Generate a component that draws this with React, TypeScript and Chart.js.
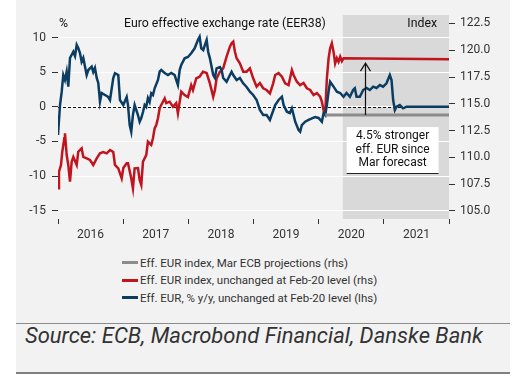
import React, { useEffect, useRef } from "react";
import { Chart, registerables } from "chart.js";

Chart.register(...registerables);

// Blue: Eff. EUR, % y/y (lhs)
const blueDates = [
  2016.0, 2016.031, 2016.057, 2016.081, 2016.107, 2016.133, 2016.158, 2016.184, 2016.235, 2016.261,
  2016.287, 2016.311, 2016.337, 2016.363, 2016.388, 2016.44, 2016.465, 2016.517, 2016.541, 2016.567,
  2016.594, 2016.618, 2016.644, 2016.67, 2016.721, 2016.771, 2016.798, 2016.848, 2016.874, 2016.925,
  2016.951, 2017.002, 2017.054, 2017.074, 2017.1, 2017.124, 2017.15, 2017.176, 2017.201, 2017.227,
  2017.253, 2017.278, 2017.304, 2017.33, 2017.354, 2017.38, 2017.406, 2017.431, 2017.457, 2017.483,
  2017.534, 2017.56, 2017.584, 2017.637, 2017.687, 2017.738, 2017.79, 2017.84, 2017.867, 2017.891,
  2017.943, 2017.994, 2018.044, 2018.097, 2018.147, 2018.173, 2018.198, 2018.229, 2018.255, 2018.281,
  2018.305, 2018.331, 2018.382, 2018.408, 2018.434, 2018.485, 2018.511, 2018.535, 2018.587, 2018.638,
  2018.664, 2018.689, 2018.741, 2018.791, 2018.842, 2018.894, 2018.945, 2018.995, 2019.048, 2019.098,
  2019.149, 2019.201, 2019.252, 2019.278, 2019.333, 2019.385, 2019.436, 2019.462, 2019.512, 2019.558,
  2019.589, 2019.615, 2019.64, 2019.692, 2019.716, 2019.742, 2019.793, 2019.845, 2019.896, 2019.946,
  2019.998, 2020.049, 2020.075, 2020.1, 2020.126, 2020.152, 2020.176, 2020.229, 2020.279, 2020.33,
  2020.382, 2020.428, 2020.479, 2020.529, 2020.555, 2020.581, 2020.632, 2020.683, 2020.735, 2020.785,
  2020.836, 2020.888, 2020.939, 2020.989, 2021.041, 2021.092, 2021.118, 2021.143, 2021.169, 2021.195,
  2021.245, 2021.296, 2021.348, 2022.0,
];
const blueValues = [
  -4.06, 0.27, 2.2, 4.61, 3.88, 5.09, 2.92, 7.07, 7.98, 7.36,
  8.97, 8.51, 7.79, 6.53, 7.07, 4.61, 5.33, 5.81, 5.04, 5.62,
  4.18, 3.46, 0.75, 2.01, 1.72, 1.43, 1.0, 4.18, 4.86, 4.61,
  1.0, 0.27, 1.43, 0.27, -2.62, -3.58, -1.17, 0.27, -0.45, -1.17,
  -2.14, -1.6, -0.74, 0.27, -0.01, 1.29, 0.71, 1.97, 1.72, 2.69,
  3.89, 5.09, 5.33, 4.9, 4.61, 4.9, 4.61, 3.16, 5.33, 6.05,
  7.02, 7.21, 7.75, 8.47, 9.67, 10.14, 8.47, 8.22, 8.95, 9.67,
  7.93, 7.02, 4.61, 4.18, 5.58, 5.77, 5.33, 4.18, 3.64, 4.61,
  5.09, 4.61, 3.89, 4.18, 3.41, 2.88, 2.2, 1.72, 1.0, -0.45,
  -1.17, -1.17, -1.89, -1.17, 0.27, 1.0, 1.47, 0.27, -0.69, -0.88,
  -0.2, -1.17, -2.14, -3.34, -3.58, -2.62, -2.14, -1.89, -1.65, -1.46,
  -1.6, -2.14, -0.92, -1.17, 0.27, 2.2, 3.64, 2.92, 2.2, 2.01,
  1.47, 2.01, 1.47, 2.44, 2.69, 1.47, 1.47, 2.44, 2.73, 2.44,
  2.92, 2.73, 3.16, 2.92, 3.41, 4.61, 3.89, 1.0, -0.45, 0.03,
  0.27, -0.2, 0.03, 0.03,
];

// Red: Eff. EUR index, unchanged at Feb-20 level (rhs)
const redDates = [
  2016.0, 2016.015, 2016.046, 2016.066, 2016.097, 2016.107, 2016.133, 2016.158, 2016.184, 2016.21,
  2016.235, 2016.287, 2016.311, 2016.363, 2016.388, 2016.44, 2016.491, 2016.541, 2016.594, 2016.644,
  2016.695, 2016.747, 2016.798, 2016.848, 2016.874, 2016.925, 2016.977, 2017.002, 2017.054, 2017.074,
  2017.124, 2017.15, 2017.176, 2017.227, 2017.253, 2017.278, 2017.304, 2017.354, 2017.38, 2017.431,
  2017.457, 2017.483, 2017.508, 2017.534, 2017.56, 2017.584, 2017.637, 2017.661, 2017.713, 2017.764,
  2017.814, 2017.84, 2017.891, 2017.943, 2017.994, 2018.044, 2018.071, 2018.121, 2018.173, 2018.224,
  2018.281, 2018.331, 2018.382, 2018.408, 2018.434, 2018.485, 2018.535, 2018.587, 2018.638, 2018.664,
  2018.689, 2018.715, 2018.741, 2018.791, 2018.842, 2018.894, 2018.945, 2018.995, 2019.048, 2019.098,
  2019.149, 2019.201, 2019.252, 2019.302, 2019.333, 2019.385, 2019.436, 2019.486, 2019.538, 2019.589,
  2019.615, 2019.666, 2019.716, 2019.768, 2019.819, 2019.87, 2019.922, 2019.972, 2020.023, 2020.049,
  2020.075, 2020.1, 2020.126, 2020.152, 2020.176, 2020.202, 2020.229, 2020.253, 2020.279, 2020.305,
  2020.33, 2020.356, 2020.382, 2022.0,
];
const redValues = [
  107.11, 108.66, 109.29, 110.53, 111.78, 112.25, 110.22, 109.29, 107.73, 109.6,
  110.04, 109.29, 110.53, 110.85, 110.04, 109.91, 109.76, 109.29, 109.91, 110.38,
  110.5, 110.38, 110.69, 110.5, 109.29, 108.98, 108.05, 109.01, 109.45, 109.45,
  108.05, 107.11, 108.98, 109.01, 107.89, 107.42, 109.6, 110.22, 111.46, 111.16,
  111.78, 112.71, 113.02, 113.65, 114.58, 114.89, 115.51, 115.07, 115.2, 114.73,
  115.07, 114.11, 116.13, 115.82, 115.63, 116.75, 116.29, 117.38, 117.53, 118.0,
  117.87, 116.91, 115.66, 116.29, 117.38, 118.0, 118.31, 119.4, 120.33, 120.65,
  120.8, 119.86, 119.25, 118.78, 118.0, 118.0, 118.31, 117.38, 116.6, 116.94,
  116.45, 116.29, 115.98, 116.91, 117.69, 117.87, 117.53, 116.91, 116.75, 118.15,
  117.69, 117.06, 116.75, 116.94, 116.45, 116.29, 115.82, 116.01, 115.66, 115.2,
  114.42, 114.11, 117.38, 119.25, 120.18, 120.65, 119.83, 118.78, 119.27, 118.93,
  119.4, 118.99, 119.25, 119.15,
];

// Grey: Eff. EUR index, Mar ECB projections (rhs)
const greyDates = [2020.1, 2022.0];
const greyValues = [113.95, 113.95];

const leftTicks = [-15, -10, -5, 0, 5, 10];
const rightTicks = [105, 107.5, 110, 112.5, 115, 117.5, 120, 122.5];
const yearTicks = [2016, 2016.5, 2017, 2017.5, 2018, 2018.5, 2019, 2019.5, 2020, 2020.5, 2021, 2021.5, 2022];

const forecastStart = 2020.37;
const arrowDate = 2020.71;
const arrowFrom = 113.95;
const arrowTo = 118.8;
const noteLines = ["4.5% stronger", "eff. EUR since", "Mar forecast"];
const noteBox = { x0: 2020.43, x1: 2021.84, yTop: 112.83, yBottom: 108.54 };

const FONT = "Roboto, 'DejaVu Sans', sans-serif";
const BLUE = "#0b3d63";
const RED = "#c0141f";
const GREY = "#8c8c8c";
const TEXT = "#333333";

const legendItems = [
  { label: "Eff. EUR index, Mar ECB projections (rhs)", color: GREY },
  { label: "Eff. EUR index, unchanged at Feb-20 level (rhs)", color: RED },
  { label: "Eff. EUR, % y/y, unchanged at Feb-20 level (lhs)", color: BLUE },
];

const toPts = (xs: number[], ys: number[]) => xs.map((x, i) => ({ x, y: ys[i] }));

const overlay = {
  id: "overlay",
  beforeDraw(chart: any) {
    const { ctx, chartArea: a, scales } = chart;
    const xs = scales.x.getPixelForValue(forecastStart);
    ctx.save();
    ctx.fillStyle = "#d9d9d9";
    ctx.fillRect(xs, a.top, a.right - xs, a.bottom - a.top);
    ctx.restore();
  },
  beforeDatasetsDraw(chart: any) {
    const { ctx, chartArea: a, scales } = chart;
    const y0 = Math.round(scales.y.getPixelForValue(0)) + 0.5;
    ctx.save();
    ctx.strokeStyle = "#111";
    ctx.lineWidth = 1;
    ctx.setLineDash([3, 2]);
    ctx.beginPath();
    ctx.moveTo(a.left, y0);
    ctx.lineTo(a.right, y0);
    ctx.stroke();
    ctx.restore();
  },
  afterDatasetsDraw(chart: any) {
    const { ctx, chartArea: a, scales } = chart;
    const x = scales.x, y1 = scales.y1;
    ctx.save();
    const ax = Math.round(x.getPixelForValue(arrowDate)) + 0.5;
    const ayFrom = y1.getPixelForValue(arrowFrom);
    const ayTo = y1.getPixelForValue(arrowTo);
    ctx.strokeStyle = "#111";
    ctx.lineWidth = 1.2;
    ctx.beginPath();
    ctx.moveTo(ax, ayFrom);
    ctx.lineTo(ax, ayTo);
    ctx.moveTo(ax - 5, ayTo + 8);
    ctx.lineTo(ax, ayTo);
    ctx.lineTo(ax + 5, ayTo + 8);
    ctx.stroke();
    const bx0 = x.getPixelForValue(noteBox.x0);
    const bx1 = x.getPixelForValue(noteBox.x1);
    const by0 = y1.getPixelForValue(noteBox.yTop);
    const by1 = y1.getPixelForValue(noteBox.yBottom);
    ctx.fillStyle = "#ffffff";
    ctx.fillRect(bx0, by0, bx1 - bx0, by1 - by0);
    ctx.strokeStyle = "#222";
    ctx.lineWidth = 1;
    ctx.beginPath();
    ctx.moveTo(bx0, Math.round(by1) + 0.5);
    ctx.lineTo(bx1, Math.round(by1) + 0.5);
    ctx.stroke();
    ctx.fillStyle = "#111";
    ctx.font = `12px ${FONT}`;
    ctx.textAlign = "center";
    ctx.textBaseline = "middle";
    const cx = (bx0 + bx1) / 2;
    noteLines.forEach((t, i) => ctx.fillText(t, cx, by0 + 9 + i * 13.5));
    ctx.textAlign = "left";
    ctx.font = `12.3px ${FONT}`;
    ctx.fillStyle = "#111";
    ctx.fillText("%", 43, 24);
    ctx.fillText("Euro effective exchange rate (EER38)", 108, 24);
    ctx.textAlign = "right";
    ctx.fillText("Index", a.right - 12, 24);
    ctx.restore();
  },
};

export default function App() {
  const ref = useRef<HTMLCanvasElement>(null);
  useEffect(() => {
    if (!ref.current) return;
    const chart = new Chart(ref.current, {
      type: "line",
      data: {
        datasets: [
          { label: legendItems[0].label, data: toPts(greyDates, greyValues), yAxisID: "y1", borderColor: GREY, borderWidth: 3, pointRadius: 0, order: 1 },
          { label: legendItems[1].label, data: toPts(redDates, redValues), yAxisID: "y1", borderColor: RED, borderWidth: 2.5, pointRadius: 0, order: 3 },
          { label: legendItems[2].label, data: toPts(blueDates, blueValues), yAxisID: "y", borderColor: BLUE, borderWidth: 2.5, pointRadius: 0, order: 2 },
        ],
      },
      options: {
        animation: false,
        responsive: false,
        devicePixelRatio: 1,
        layout: { padding: { top: 15, left: 0, right: 0, bottom: 0 } },
        plugins: { legend: { display: false }, tooltip: { enabled: false } },
        scales: {
          x: {
            type: "linear",
            min: 2016,
            max: 2022,
            afterBuildTicks: (s: any) => { s.ticks = yearTicks.map((v) => ({ value: v })); },
            afterFit: (s: any) => { s.height = 31; },
            border: { display: false },
            grid: {
              drawOnChartArea: false,
              tickLength: 5,
              tickWidth: 1,
              tickColor: (c: any) => (c.tick && Number.isInteger(c.tick.value) ? TEXT : "rgba(0,0,0,0)"),
            },
            ticks: {
              autoSkip: false,
              maxRotation: 0,
              padding: 4,
              color: TEXT,
              font: { family: FONT, size: 12 },
              callback: (v: any) => (Number.isInteger(v) ? "" : String(Math.floor(v))),
            },
          },
          y: {
            position: "left",
            min: -16.2,
            max: 13.28,
            afterBuildTicks: (s: any) => { s.ticks = leftTicks.map((v) => ({ value: v })); },
            afterFit: (s: any) => { s.width = 42; },
            border: { display: false },
            grid: { color: "#ffffff", lineWidth: 1, tickColor: TEXT, tickLength: 6 },
            ticks: { padding: 6, color: TEXT, font: { family: FONT, size: 12 }, callback: (v: any) => String(v) },
          },
          y1: {
            position: "right",
            min: 104.25,
            max: 123.29,
            afterBuildTicks: (s: any) => { s.ticks = rightTicks.map((v) => ({ value: v })); },
            afterFit: (s: any) => { s.width = 61; },
            border: { display: false },
            grid: { drawOnChartArea: false, tickColor: TEXT, tickLength: 6 },
            ticks: { padding: 5, color: TEXT, font: { family: FONT, size: 12 }, callback: (v: any) => Number(v).toFixed(1) },
          },
        },
      },
      plugins: [overlay],
    } as any);
    return () => chart.destroy();
  }, []);

  return (
    <div style={{ position: "absolute", left: 0, top: 0, width: 519, height: 381, background: "#fff", fontFamily: FONT }}>
      <div style={{ position: "absolute", left: 16, top: 0, width: 494, height: 372, background: "#f2f2f2", borderBottom: "2px solid #7f7f7f" }}>
        <canvas ref={ref} width={494} height={250} style={{ position: "absolute", left: 0, top: 0, display: "block" }} />
        <div style={{ position: "absolute", left: 106, top: 254 }}>
          {legendItems.map((it) => (
            <div key={it.label} style={{ display: "flex", alignItems: "center", height: 17.5, fontSize: 11.5, color: TEXT, whiteSpace: "nowrap" }}>
              <span style={{ display: "inline-block", width: 16, height: 3, background: it.color, marginRight: 2 }} />
              <span>{it.label}</span>
            </div>
          ))}
        </div>
        <div style={{ position: "absolute", left: 0, top: 323, width: 494, height: 1, background: "#8c8c8c" }} />
        <div style={{ position: "absolute", left: 9, top: 323, fontSize: 22, fontStyle: "italic", fontWeight: 400, color: TEXT, whiteSpace: "nowrap" }}>
          Source: ECB, Macrobond Financial, Danske Bank
        </div>
      </div>
    </div>
  );
}
